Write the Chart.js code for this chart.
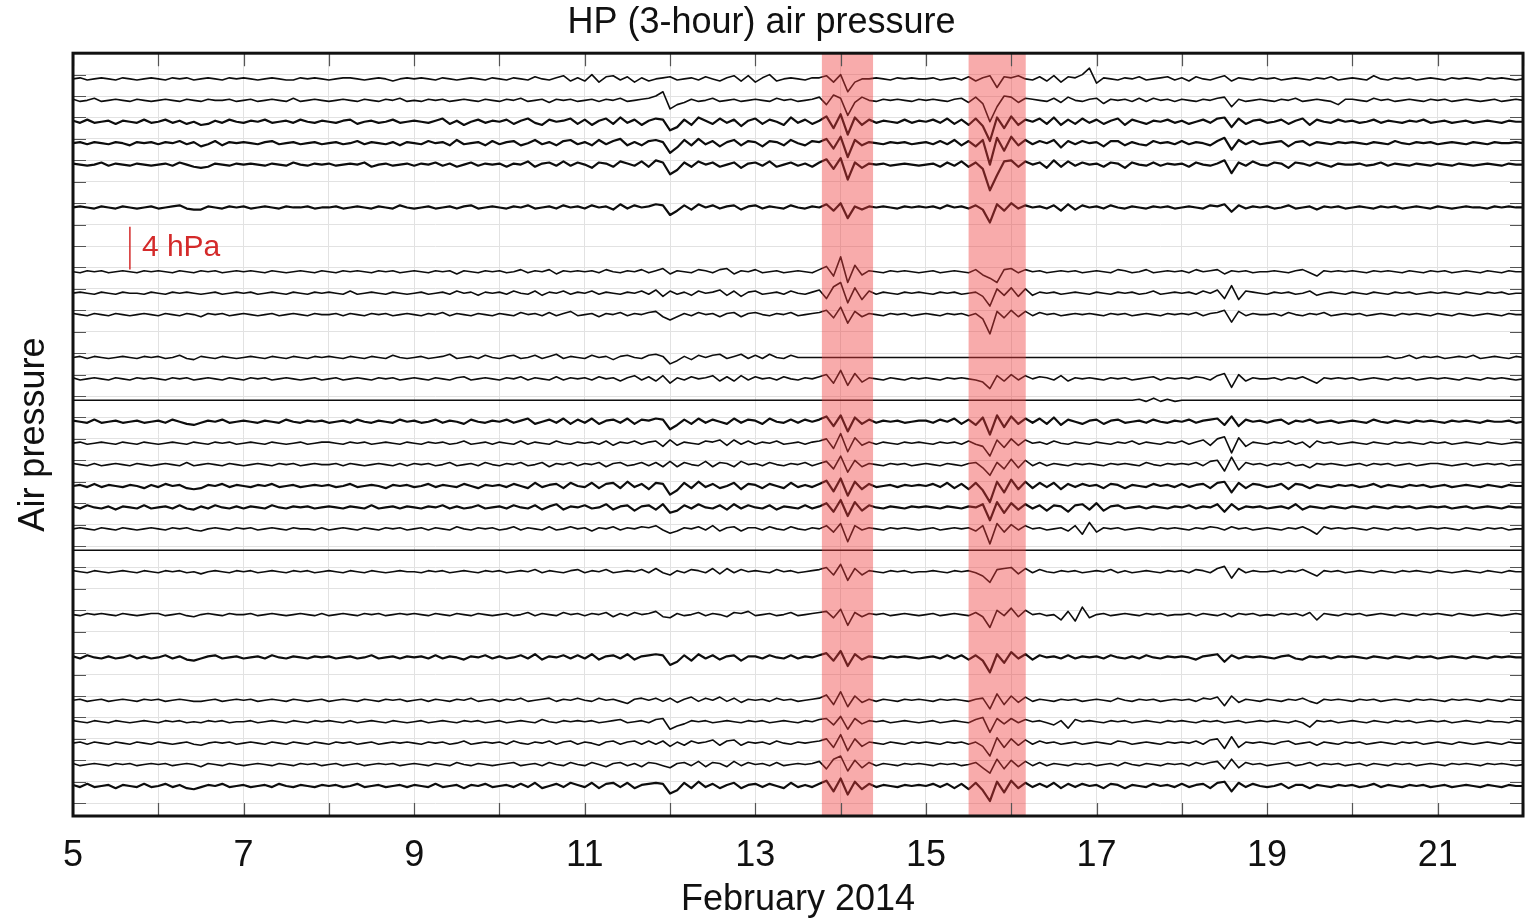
<!DOCTYPE html>
<html>
<head>
<meta charset="utf-8">
<title>HP (3-hour) air pressure</title>
<script src="https://cdn.jsdelivr.net/npm/chart.js@4.4.1/dist/chart.umd.min.js"></script>
<style>
  html, body { margin: 0; padding: 0; background: #fff; }
</style>
</head>
<body>
<canvas id="chart" width="1530" height="922"></canvas>
<script>
// time axis: samples every 2 hours starting Feb 5, 00:00
const startDay = 5;
const stepDays = 2 / 24;
const dayTicks = [5, 6, 7, 8, 9, 10, 11, 12, 13, 14, 15, 16, 17, 18, 19, 20, 21, 22];
const dayLabels = [5, 7, 9, 11, 13, 15, 17, 19, 21];

// shaded event windows (day of February)
const bands = [[13.78, 14.38], [15.5, 16.17]];
const scaleBarHPa = 4;

// slot of each trace (one slot = 2 hPa down the stack)
const traceSlots = [0, 1, 2, 3, 4, 6, 9, 10, 11, 13, 14, 15, 16, 17, 18, 19, 20, 21, 22, 23, 25, 27, 29, 30, 31, 32, 33];

// high-passed pressure per station, in units of 0.1 hPa
const p0 = [0,1,-1,0,1,0,-1,1,0,-1,0,1, 0,-1,1,0,1,-1,0,1,0,-1,1,0,
  1,0,-1,0,1,0,-1,-1,1,0,1,0, -1,0,1,1,0,-1,0,1,0,-2,0,1,
  0,1,0,-1,1,0,-1,0,1,0,-1,1, 0,-1,1,0,-1,2,0,-1,1,3,-2,1,
  -2,4,-3,2,3,-1,2,-3,1,-2,0,1, 2,-1,0,1,-1,2,0,-2,1,3,-2,3,
  -3,1,4,-2,0,1,0,-1,1,1,3,-3, 4,-12,-3,0,0,1,0,-1,1,0,1,0,
  0,1,-1,0,1,-1,2,-2,1,3,-8,2, 1,3,0,-1,2,-2,3,-3,2,1,4,10,
  -4,1,0,-1,1,0,2,-1,0,1,2,-1, 1,-2,2,0,-1,1,3,-2,1,0,-1,1,
  0,1,-1,0,1,0,-1,1,0,2,-1,0, 1,0,-1,3,0,-1,1,0,1,-1,0,1,
  0,-1,1,0,1,0,-1,1,0,1,0,-1, 0];
const p1 = [1,-1,0,2,-1,0,1,0,-1,1,0,-1, 0,1,0,-1,1,0,-1,1,0,0,1,-1,
  0,1,-1,0,1,0,-1,2,-1,0,1,0, -1,0,1,0,-1,1,0,-1,1,0,2,-1,
  0,-1,1,0,1,-1,0,1,0,-1,1,0, -1,1,0,2,-1,0,1,-2,1,0,1,-1,
  0,1,-1,1,0,2,-1,0,1,2,4,8, -8,-4,-2,1,-1,0,2,-1,0,1,-1,0,
  1,0,-1,2,0,1,-1,0,1,3,-4,5, 2,-14,-2,3,0,-1,1,0,1,0,-1,1,
  0,1,0,-1,1,2,-2,3,-3,-20,-6,4, 3,-2,2,1,0,-1,2,-2,3,0,-1,1,
  2,-3,1,0,1,-1,2,-1,2,0,1,-1, 1,0,-1,1,0,2,3,-6,1,-1,0,1,
  0,-1,1,0,2,-1,0,1,0,-1,-4,1, 1,0,-1,2,0,1,-1,0,1,0,-1,1,
  0,1,-1,0,1,0,-1,0,1,-1,0,1, 0];
const p2 = [1,-1,2,-1,0,1,-2,1,0,-1,2,-1, 0,2,-1,1,-2,0,-3,-2,1,-1,2,0,
  -1,1,0,2,-1,0,1,-1,2,0,-1,1, 0,-1,1,2,-2,0,1,-1,0,2,-1,0,
  1,0,-1,1,3,-2,1,-3,0,2,-1,1, 0,2,-2,1,3,-1,-3,2,0,1,3,-2,
  2,-3,1,3,-2,4,-1,2,-3,1,3,2, -8,-5,2,-3,4,1,-2,3,-1,2,-4,1,
  3,-2,2,0,-3,4,-1,2,-2,1,5,-6, 7,-12,4,-3,2,-1,1,0,-1,2,-1,1,
  0,2,-1,3,-2,2,-3,3,-4,-18,4,-6, 5,-3,2,0,3,-2,4,-3,2,-2,3,-1,
  2,-2,1,3,-3,2,0,-2,1,0,2,-1, 1,-2,0,2,-1,3,4,-5,3,-2,1,2,
  -1,0,2,-2,1,3,-3,2,0,-1,2,0, 1,-1,0,2,-1,1,0,-1,1,0,2,-1,
  0,1,-1,0,1,-1,0,1,0,-1,1,0, 0];
const p3 = [0,1,-1,1,0,-1,1,0,-2,1,0,1, -1,1,0,2,-1,1,-3,-1,2,-2,1,0,
  1,0,-1,1,2,-1,0,1,-1,0,1,-1, 0,1,-1,0,2,-1,1,0,-1,1,-2,1,
  0,-1,2,0,1,-2,3,-1,0,1,-2,2, -1,1,2,-2,0,3,-1,1,-2,2,3,-1,
  1,-2,3,-1,2,4,-2,1,-2,2,3,1, -9,-4,3,-2,4,-1,2,-3,1,3,-2,2,
  1,-3,2,1,-2,3,0,-2,2,1,4,-5, 6,-13,3,-2,1,0,-1,1,0,1,-1,0,
  1,-1,2,-1,3,-2,2,-3,3,-20,5,-7, 6,-2,3,-1,2,0,3,-4,2,-1,2,0,
  1,-3,2,2,-2,1,-1,-2,2,0,1,-1, 2,-1,1,0,-2,2,5,-6,3,-1,2,-1,
  0,1,2,-3,1,2,-2,1,0,-1,1,0, 1,0,-1,1,0,-1,2,0,-1,1,0,1,
  -1,0,1,0,-1,1,0,-1,1,0,0,1, 0];
const p4 = [1,0,-1,0,2,-1,1,0,-1,1,0,-1, 0,1,-1,2,0,-2,-3,-2,1,0,-1,1,
  0,1,0,-1,1,0,-1,2,0,-1,1,0, 1,-1,0,1,0,2,-2,0,1,-1,0,1,
  -1,1,0,2,-1,1,-2,0,2,-1,1,0, 1,-2,1,0,3,-2,1,2,-1,3,-1,2,
  0,-3,2,1,-2,3,1,-1,3,-2,4,2, -9,-5,2,-2,3,0,2,-2,0,2,-3,1,
  2,-1,3,-2,0,2,-1,1,-2,2,5,-4, 6,-14,2,-3,1,0,1,-1,0,1,0,-1,
  0,1,-2,2,-1,3,-2,2,-4,-24,-10,3, 4,-2,3,0,2,-3,4,-2,3,-1,2,0,
  1,-2,2,1,-3,2,0,-1,2,-1,1,0, 1,-2,2,0,-1,1,4,-8,2,-1,3,0,
  -1,2,1,-3,2,1,-1,2,0,-2,1,0, 0,1,-1,0,2,-1,1,0,-1,1,0,-1,
  1,0,-1,1,0,-1,0,1,0,-1,1,0, 0];
const p6 = [0,1,0,-1,1,0,-1,1,0,-1,0,1, -1,0,1,2,-1,-2,-2,1,0,-1,1,0,
  1,-1,0,1,0,-1,1,0,0,1,-1,0, 0,1,-1,0,1,0,-1,1,0,-1,2,0,
  -1,0,1,-1,0,1,-1,1,2,-1,0,1, 0,-1,1,0,2,-1,0,1,-1,2,0,1,
  -1,2,0,1,-2,3,-1,2,0,1,3,2, -7,-3,2,-2,3,0,2,-1,1,2,-2,1,
  2,-1,1,0,-1,2,0,-1,1,0,3,-3, 4,-10,1,-2,1,0,1,0,-1,1,0,1,
  0,1,-1,2,0,1,-1,2,-2,-14,3,-3, 4,-1,2,0,1,-1,2,-3,3,-2,2,0,
  1,-1,2,0,-1,1,0,-1,1,0,1,-1, 0,1,0,-1,2,1,3,-4,2,-1,1,0,
  1,-1,0,2,-1,0,1,-2,1,0,1,-1, 0,1,0,-1,1,0,1,-1,0,1,0,-1,
  1,0,-1,0,1,0,0,-1,1,0,1,0, 0];
const p9 = [0,-1,1,0,1,-1,0,1,0,-1,1,0, 1,0,-1,1,0,-1,1,0,1,-1,0,1,
  0,1,0,-1,1,0,-1,0,1,0,-1,1, 0,-1,1,0,1,0,-1,1,0,1,-1,0,
  1,0,-1,1,0,1,-2,1,0,-1,1,0, 1,-1,0,2,-1,1,0,2,-2,1,0,1,
  0,1,-1,2,0,-1,1,0,2,-1,1,3, -2,1,0,-1,2,1,-1,2,3,-2,1,0,
  2,-1,0,1,-1,0,1,0,-1,2,5,-4, 14,-10,6,-3,1,0,-1,1,0,1,0,-1,
  0,1,-1,0,1,0,-1,2,-3,-6,-10,2, 3,-1,2,0,1,-1,0,1,0,1,-1,0,
  1,0,-1,2,1,-1,0,2,-1,0,1,0, 1,-1,2,0,1,2,-2,1,0,1,-1,0,
  0,1,0,-1,1,2,-1,-4,1,0,1,0, 1,0,-1,1,0,1,0,-1,1,0,-1,1,
  0,1,-1,0,1,0,-1,1,0,-1,1,0, 0];
const p10 = [0,1,0,-1,1,0,-1,1,0,0,-1,1, 0,-1,1,0,1,0,-1,0,1,-1,0,1,
  0,1,-1,0,1,0,-1,1,0,-1,1,0, 1,0,-1,2,-1,0,1,0,-1,1,0,-1,
  0,1,-1,0,1,-1,2,0,1,-2,1,0, 1,-1,2,0,-1,2,-2,1,0,2,-1,1,
  0,2,-1,1,0,-1,1,0,2,-1,3,-3, 2,-1,1,-2,2,0,1,3,-2,2,-3,1,
  2,-1,0,1,-1,2,0,-1,1,3,-5,6, 10,-9,5,-6,2,-1,1,0,-1,1,0,1,
  0,-1,1,0,1,-1,0,1,-3,-12,4,-2, 5,-3,4,-2,1,0,1,-1,0,1,0,-1,
  1,0,-1,1,0,1,-1,0,2,-1,0,1, 0,1,-1,2,0,3,-5,7,-6,2,1,0,
  -1,1,0,1,-1,0,2,-2,0,1,0,-1, 1,0,-1,1,0,-1,1,0,1,-1,0,1,
  0,1,0,-1,1,0,-1,1,0,1,-1,0, 0];
const p11 = [1,0,-1,1,0,-1,1,0,-1,0,1,0, -1,1,0,-1,1,0,-2,1,0,1,-1,0,
  1,0,-1,0,1,-1,0,1,0,-1,1,0, 0,1,-1,1,0,-1,1,0,1,-1,0,1,
  0,-1,1,0,2,-1,1,0,-1,1,0,-1, 1,0,-1,2,0,1,-1,2,-1,1,3,-1,
  0,1,-2,1,0,2,-1,1,0,2,3,-2, -5,-2,1,-1,2,0,1,-2,1,2,-2,1,
  2,0,-1,1,0,2,-1,0,1,2,4,-3, 7,-8,3,-2,1,0,-1,1,0,1,-1,0,
  1,0,-1,1,0,1,-1,1,-4,-18,3,-3, 4,-2,3,-1,2,0,1,-1,0,1,0,1,
  0,-1,1,0,1,-1,0,1,0,-1,1,0, 1,0,2,-1,1,2,4,-7,3,-1,1,0,
  0,1,-1,2,0,-1,1,0,2,-1,0,1, 0,1,-1,0,1,0,-1,1,0,1,0,-1,
  1,0,-1,1,0,-1,0,1,0,-1,1,0, 0];
const p13 = [0,1,-1,1,0,-1,0,1,0,-1,1,0, 1,-1,0,2,-1,-2,1,0,-1,1,0,-1,
  0,1,0,-1,1,0,-1,1,0,-1,1,0, 1,0,-1,1,0,-1,1,0,-1,2,0,-1,
  0,1,-1,0,1,3,-1,0,1,-1,2,0, -1,1,2,-1,0,2,-1,1,3,-1,1,0,
  -1,2,0,1,-2,1,2,0,-1,2,3,1, -6,-3,1,-2,2,0,2,3,-1,1,3,-1,
  2,-1,3,0,-1,2,0,0,0,0,0,0, 0,0,0,0,0,0,0,0,0,0,0,0,
  0,0,0,0,0,0,0,0,0,0,0,0, 0,0,0,0,0,0,0,0,0,0,0,0,
  0,0,0,0,0,0,0,0,0,0,0,0, 0,0,0,0,0,0,0,0,0,0,0,0,
  0,0,0,0,0,0,0,0,0,0,0,0, 0,0,0,0,0,1,-1,0,2,-1,1,0,
  1,-1,0,1,0,2,-1,0,1,0,-1,1, 0];
// mostly dead channel: [day, value] pairs
const p15 = [[5, 0], [17.42, 0], [17.5, 1], [17.58, -1], [17.67, 2], [17.75, -1], [17.83, 1], [17.92, -1], [18, 0], [22, 0]];
const p14 = [1,-1,0,1,0,-1,1,0,-1,1,0,1, 0,-1,1,0,1,-1,0,1,0,-1,1,0,
  -1,1,0,1,-1,0,1,0,-1,0,1,-1, 0,1,-1,0,1,0,-1,1,0,1,-1,0,
  1,0,-1,1,0,-1,1,2,-1,0,1,0, -1,1,0,2,-1,1,0,-1,2,-1,1,0,
  1,-1,2,0,1,-2,1,3,-1,2,-2,3, -4,1,-1,2,0,1,3,-2,2,-2,3,-1,
  2,0,1,-1,2,0,-1,1,0,2,4,-4, 8,-6,5,-3,1,0,-1,1,0,-1,1,0,
  1,0,-1,1,0,1,0,-1,-3,-9,3,-2, 4,-1,3,0,2,1,-1,3,-2,1,0,1,
  0,-1,1,0,1,-1,0,1,2,-1,1,0, 1,0,2,1,-1,3,5,-8,4,-2,1,0,
  0,1,-1,1,0,2,-1,-4,1,0,1,0, 1,-1,0,1,0,-1,1,0,1,-1,0,1,
  0,1,0,-1,1,0,-1,1,0,1,0,-1, 0];
const p16 = [1,0,-1,2,-1,0,1,-1,0,1,-1,0, 1,-1,2,0,-2,-3,-1,1,0,2,-1,0,
  1,0,-1,1,0,-1,2,0,-1,1,0,1, -1,0,1,-1,2,0,-1,1,0,-1,2,0,
  1,-1,0,2,-1,1,0,-2,2,0,-1,1, 0,2,-1,1,3,-2,0,2,-1,3,-2,2,
  -1,3,-2,1,2,-1,3,-2,2,1,3,2, -7,-3,2,-2,3,-1,2,0,-2,3,-1,2,
  1,-2,3,0,-1,2,-1,2,0,2,5,-4, 6,-9,4,-2,2,-1,1,0,1,-1,0,1,
  1,-1,2,0,3,-2,2,-3,4,-12,6,-5, 5,-2,3,-1,3,-2,4,-3,2,0,-2,1,
  2,-2,1,2,-1,0,1,-1,2,0,-1,1, 0,2,-1,1,2,3,-3,5,-4,2,0,1,
  -1,1,2,-2,1,0,2,-1,0,1,-1,0, 1,0,-1,2,0,-1,1,0,-1,1,0,1,
  0,-1,1,0,1,0,-1,1,0,0,1,-1, 0];
const p17 = [0,1,-1,0,1,0,-1,1,0,-1,1,0, -1,0,1,0,-1,1,0,-1,1,0,1,-1,
  0,1,0,-1,1,0,-1,0,1,-1,0,1, 1,0,-1,1,0,1,-1,0,1,0,-1,1,
  0,-1,1,0,1,-1,0,2,-1,0,1,-1, 1,0,-1,2,-1,1,0,-1,2,0,-1,1,
  0,1,-1,2,-2,1,0,2,-1,1,2,-3, 3,-2,1,0,-1,2,1,3,-2,3,-1,2,
  -1,1,0,2,-1,0,1,-1,1,2,4,-5, 9,-8,5,-2,1,-1,1,0,-1,1,0,1,
  0,-1,1,0,1,-1,2,-1,-3,-12,3,-4, 4,-2,3,0,1,-1,2,0,-1,1,0,-1,
  1,0,-1,1,0,2,-1,1,0,-1,1,0, 2,-1,1,3,-2,4,6,-9,5,-3,1,0,
  -1,1,0,2,-1,1,-4,2,0,1,-1,0, 1,0,-1,1,0,-1,1,0,1,0,-1,1,
  0,1,-1,0,1,0,-1,1,0,-1,0,1, 0];
const p18 = [1,0,-1,1,-1,0,1,0,-1,1,0,-1, 0,1,0,-1,2,-1,0,1,0,-1,1,0,
  -1,0,1,0,-1,1,0,1,-1,0,1,0, 0,1,-1,1,0,-1,0,1,0,-1,1,-1,
  1,0,1,-1,0,2,-1,0,1,-1,2,0, -1,1,0,2,-1,0,2,-2,1,0,2,-1,
  1,0,2,-2,1,2,-1,0,2,-1,2,-2, 3,-2,2,0,-1,3,-2,2,1,-2,3,0,
  1,-1,2,0,-1,1,0,2,-1,1,3,-4, 8,-7,4,-2,1,0,-1,1,0,1,-1,0,
  1,0,-1,1,0,-1,1,2,-3,-10,2,-4, 5,-3,4,-1,2,-1,1,0,-1,1,0,1,
  0,-1,1,0,1,0,-1,2,0,-1,1,0, 1,0,2,-1,3,4,-6,7,-5,2,0,1,
  -1,1,0,2,-1,0,-3,1,0,1,0,-1, 0,1,-1,1,0,1,-1,0,1,-1,0,1,
  1,0,-1,0,1,-1,0,1,0,1,-1,0, 0];
const p19 = [0,1,-1,2,-1,1,0,-1,1,0,-2,1, -1,2,0,1,-2,-3,-2,1,0,2,-1,1,
  0,-1,1,0,2,-1,0,1,-1,0,1,0, 1,-1,0,2,-1,0,1,0,-2,1,0,1,
  -1,0,2,-1,1,0,-1,2,0,-2,1,0, 1,-1,2,0,-2,3,-1,1,2,-2,3,0,
  -1,3,-2,2,3,-2,4,-1,2,-3,3,2, -8,-4,3,-2,4,-1,2,-2,0,3,-3,2,
  1,-2,2,0,-2,3,-1,1,-1,2,5,-5, 7,-9,4,-3,2,-1,0,1,-1,1,0,1,
  0,2,-1,3,-2,2,-3,3,-4,-15,4,-6, 6,-3,4,-2,3,-1,3,-3,2,-1,2,0,
  1,-2,2,1,-2,1,0,-1,2,0,1,-1, 2,-1,1,2,-2,3,4,-6,3,-2,2,1,
  -1,0,2,-3,2,1,-2,1,0,-1,1,0, 1,-1,0,2,-1,1,0,-1,1,0,1,-1,
  0,1,-1,0,1,0,-1,1,0,-1,1,0, 0];
const p20 = [1,-1,2,0,-1,1,-2,1,0,-1,2,-1, 0,1,-1,2,-1,-2,1,-1,2,0,-1,1,
  -1,1,0,-1,2,0,-1,1,0,1,-1,0, 1,0,-1,1,0,-1,2,-1,0,1,-1,1,
  0,-1,1,0,2,-1,1,-1,0,2,-1,0, 1,-1,2,0,-1,2,-2,1,3,-2,1,0,
  2,-1,0,3,-2,1,2,-3,1,2,-2,3, -5,-3,2,-1,3,0,-1,2,-2,3,-1,2,
  0,-1,2,-2,1,0,-1,2,-1,1,4,-4, 7,-8,5,-3,2,0,-1,1,0,-1,1,0,
  1,0,-1,1,0,-1,1,0,3,-12,5,-5, 4,-2,3,-1,2,-3,2,1,-4,2,3,-2,
  4,-3,1,2,-1,0,1,-1,1,0,-1,1, 0,2,-1,1,0,3,-4,3,-2,1,0,1,
  -1,0,1,-1,3,-2,1,0,-1,1,0,-1, 1,0,-1,1,0,-1,1,0,1,-1,0,1,
  0,1,-1,0,1,-1,0,1,0,-1,1,0, 0];
const p21 = [0,1,0,-1,1,0,-1,1,0,-1,0,1, 0,-1,1,0,1,-1,-2,0,1,0,-1,1,
  0,1,-1,0,1,0,-1,1,0,0,-1,1, -1,0,1,0,-1,1,0,-1,1,0,1,-1,
  0,1,-1,1,0,-1,2,0,-1,1,0,1, -1,0,2,-1,1,0,-1,2,-1,0,2,0,
  1,-2,1,0,2,-1,1,0,2,1,3,-1, -4,-2,1,0,2,-1,3,-2,1,2,-2,1,
  1,-1,2,0,-1,2,0,-1,1,0,3,-3, 5,-12,3,-1,1,0,-1,1,0,1,0,-1,
  0,1,-1,0,1,0,1,-2,3,-14,5,-3, 4,-1,3,0,1,-1,0,1,-2,3,-5,6,
  -3,1,0,1,-1,0,1,0,-1,1,0,1, 0,-1,1,0,2,1,-1,2,0,1,-1,0,
  1,0,-1,1,0,2,-1,-5,2,0,1,0, 1,0,-1,1,0,-1,1,0,1,-1,0,1,
  0,1,0,-1,1,0,-1,1,0,1,-1,0, 0];
// dead channel, flat for the whole period
const p22 = [[5, 0], [22, 0]];
const p23 = [1,0,-1,1,0,-1,0,1,0,-1,1,0, -1,1,0,1,-1,0,-2,0,1,0,-1,1,
  0,1,-1,0,1,0,-1,1,0,1,-1,0, 1,0,-1,1,0,-1,1,0,-1,0,1,0,
  0,-1,1,0,1,-1,0,1,0,-1,1,0, 1,-1,0,1,0,2,-1,1,0,-1,1,2,
  -1,1,0,2,-1,0,1,0,2,-1,3,-1, -3,1,-1,2,1,-1,3,-2,3,-1,2,0,
  1,0,-1,2,0,1,-1,0,1,2,4,-3, 7,-8,3,-3,1,0,-1,1,0,1,-1,0,
  0,1,0,-1,1,0,1,-1,-4,-10,2,3, 4,-2,3,-1,2,0,-1,1,0,1,-1,0,
  1,0,2,-1,1,-1,0,1,0,-1,1,0, 1,-1,2,1,-1,3,5,-6,3,-1,1,0,
  0,1,-1,1,0,2,-1,-4,1,0,1,-1, 0,1,0,-1,1,0,-1,1,0,1,0,-1,
  1,0,-1,0,1,0,-1,1,0,-1,1,0, 0];
const p25 = [0,-1,1,0,1,0,-1,1,0,-1,0,1, 1,-1,0,1,-1,-2,0,1,0,-1,1,0,
  0,1,-1,0,1,0,-1,0,1,0,-1,1, -1,0,1,0,-1,1,0,1,-1,0,1,0,
  1,0,-1,1,0,-1,1,0,-1,1,0,-1, 0,1,-1,0,2,-1,1,0,-1,2,0,1,
  -1,1,0,2,-2,1,-1,2,0,1,3,-2, -3,1,-1,0,2,-1,1,0,-2,2,1,3,
  -1,0,1,-1,0,2,-1,0,1,2,3,-3, 5,-10,2,-2,1,0,1,-1,0,1,0,-1,
  0,1,-1,0,1,0,-1,2,-2,-12,4,-1, 6,-2,4,0,1,-1,0,-5,3,-6,7,-3,
  0,1,-1,0,1,0,-1,1,0,1,-1,0, 0,1,-1,1,0,-1,1,-2,1,0,1,-1,
  0,-1,1,0,1,-1,2,-5,1,0,-1,1, 0,1,-1,0,1,0,-1,1,0,-1,1,0,
  1,0,-1,1,0,-1,0,1,0,-1,0,1, 0];
const p27 = [1,-1,2,0,-1,1,-1,0,2,-1,1,-1, 0,2,-1,1,-2,-3,-1,1,2,-1,0,1,
  -1,0,1,-1,2,0,-1,1,0,-1,1,0, 1,-1,0,1,-1,0,2,-1,0,1,-1,1,
  0,1,-1,2,-1,1,0,-2,1,0,2,-1, 1,-1,0,2,-1,3,-2,1,0,2,-1,2,
  -1,3,-2,1,2,-1,3,-2,1,2,3,2, -7,-4,2,-3,3,-1,2,-2,1,2,-3,1,
  1,-1,2,0,-1,2,-1,1,0,2,4,-3, 6,-8,3,-2,1,0,-1,1,0,1,0,-1,
  0,1,-1,2,-1,2,-2,2,-3,-14,3,-5, 5,-1,3,-2,2,0,1,-1,2,-1,1,0,
  1,-1,2,0,-1,1,-1,2,0,-1,1,0, 1,0,-2,1,2,3,-4,2,-1,1,0,1,
  0,-1,1,2,-1,-2,1,0,1,-1,1,0, 1,0,-1,1,0,-1,1,0,-1,1,0,1,
  -1,0,1,0,-1,1,0,-1,1,0,1,0, 0];
const p29 = [0,1,-1,0,1,-1,0,1,0,-1,1,0, 1,-1,0,1,0,-1,-1,0,1,-1,0,1,
  0,1,-1,0,1,0,-1,1,0,-1,0,1, -1,0,1,0,-1,1,0,-1,1,0,1,-1,
  0,1,-1,1,0,-1,1,0,2,-1,0,1, -1,1,0,2,-1,0,1,2,-1,1,0,2,
  0,-1,2,0,1,-1,-3,1,2,0,2,-1, 2,-2,1,3,-1,2,0,3,-1,2,-2,1,
  0,1,-1,2,0,1,-1,0,1,2,5,-4, 8,-6,4,-2,1,-1,1,0,-1,1,0,1,
  0,-1,1,0,1,0,-1,1,2,-8,6,-4, 4,-2,3,-1,1,0,-1,1,0,1,-1,0,
  1,0,-1,2,0,-1,1,0,1,-1,0,1, 0,1,-1,2,1,3,-5,4,-2,1,0,-1,
  1,0,-1,1,0,2,-1,-3,1,0,1,0, -1,1,0,1,-1,0,1,0,-1,1,0,1,
  0,-1,1,0,1,0,-1,1,0,-1,1,0, 0];
const p30 = [1,0,-1,1,0,-1,1,0,-1,0,1,0, -1,1,0,1,-1,0,-1,1,0,1,-1,0,
  0,1,-1,0,1,0,-1,1,0,-1,1,0, 1,0,-1,1,-1,0,1,0,-1,1,0,-1,
  0,1,-1,0,1,0,-1,1,0,1,-1,0, 1,-1,0,1,0,-1,2,0,-1,1,0,1,
  0,1,-1,0,1,2,-1,0,1,-1,2,3, -7,-4,-2,1,0,1,-1,0,1,0,-1,1,
  0,1,-1,0,1,0,-1,1,0,2,3,-3, 5,-7,3,-2,1,0,1,-1,0,1,0,-1,
  0,1,-1,0,1,0,-1,2,4,-10,3,-2, 3,-1,2,0,1,-1,-3,1,-6,2,0,1,
  0,-1,1,0,1,-1,0,1,0,-1,1,0, 1,0,-1,1,0,1,-1,0,1,-1,0,1,
  0,1,0,-1,1,-1,-5,1,0,1,-1,0, 1,0,-1,1,0,-1,1,0,1,-1,0,1,
  0,1,-1,0,1,0,-1,1,0,0,-1,1, 0];
const p31 = [0,1,-1,1,0,-1,1,0,-1,1,0,-1, 1,0,-1,0,1,-1,-2,0,1,0,1,-1,
  0,1,0,-1,1,0,-1,1,0,-1,1,0, -1,1,0,1,-1,0,1,-1,0,1,0,1,
  0,-1,1,0,1,-1,0,2,-1,0,1,0, 1,-1,2,0,-1,1,0,2,-1,1,2,-1,
  1,0,-2,1,2,-1,1,2,-1,2,-1,2, -3,1,-2,2,0,1,3,-2,2,3,-2,1,
  0,1,-1,2,0,-1,1,0,1,2,4,-4, 8,-7,4,-3,1,0,-1,1,0,-1,1,0,
  1,0,-1,1,0,1,-1,1,-3,-12,5,-4, 4,-2,3,-1,2,0,1,-1,0,1,-1,0,
  1,0,-1,2,1,-1,0,1,0,-1,1,0, 1,0,2,-1,3,4,-5,6,-4,1,0,1,
  0,-1,1,2,-1,0,1,-2,1,0,-1,1, 0,1,-1,0,1,0,-1,1,0,1,-1,0,
  1,0,-1,1,0,-1,0,1,0,-1,1,0, 0];
const p32 = [1,-1,0,1,0,-1,1,0,1,-1,0,1, 0,1,-1,0,1,0,-2,1,0,-1,1,0,
  -1,0,1,0,-1,1,0,-1,1,0,1,-1, 0,1,-1,0,1,-1,0,1,0,1,-1,0,
  1,0,-1,1,0,-1,2,0,-1,1,0,-1, 0,1,2,-1,0,1,-1,2,0,-1,2,0,
  -1,2,0,-2,1,2,-1,1,-2,2,1,-1, -3,1,2,-1,3,-2,2,1,-2,3,-1,2,
  0,1,-1,2,-1,0,1,0,1,3,-4,5, 8,-6,4,-3,2,-1,1,0,-1,1,0,1,
  0,-1,1,0,1,-1,0,2,-3,-8,5,-4, 4,-2,3,-1,2,-1,1,0,-1,1,0,1,
  -1,0,1,-1,2,0,-1,1,0,-1,1,0, 1,-1,2,0,2,3,-4,5,-3,2,0,1,
  -1,0,1,2,-1,0,2,-1,1,0,1,-1, 0,1,-1,1,0,-1,1,0,1,-1,0,1,
  0,-1,1,0,1,0,-1,1,0,1,0,-1, 0];
const p33 = [1,-1,2,-1,0,1,-2,1,0,-1,2,-1, 0,2,-1,1,-2,-3,-1,1,0,2,-1,0,
  1,-1,0,1,-1,2,0,-1,1,0,-1,1, 0,1,-1,0,2,-1,0,1,-1,0,1,-1,
  1,0,-1,2,-1,0,1,-2,1,0,2,-1, 0,1,-1,2,-1,3,-2,0,2,-1,3,1,
  -1,3,-2,2,3,-1,3,-2,1,2,3,2, -7,-4,3,-2,4,-1,2,-2,1,3,-2,1,
  2,-1,2,0,-2,3,-1,1,-1,2,5,-5, 7,-8,4,-3,2,-1,1,0,-1,1,0,1,
  0,2,-1,2,-2,2,-3,3,-4,-14,4,-6, 5,-2,3,-1,2,-1,3,-2,2,-1,2,0,
  1,-2,2,1,-2,1,0,-1,2,0,1,-1, 2,-1,1,2,-2,3,4,-5,3,-1,2,0,
  -1,0,2,-2,1,1,-2,1,0,-1,1,0, 1,-1,0,2,-1,1,0,-1,1,0,1,-1,
  0,1,-1,0,1,0,-1,1,0,-1,1,0, 0];

const traces = [p0, p1, p2, p3, p4, p6, p9, p10, p11, p13, p14, p15, p16, p17,
  p18, p19, p20, p21, p22, p23, p25, p27, p29, p30, p31, p32, p33];

// traces that print heavier in the figure
const heavySlots = [2, 3, 4, 6, 16, 19, 20, 27, 33];

const FONT = "'Liberation Sans', Arial, Helvetica, sans-serif";
const unit = 0.1;          // data unit in hPa
const baseShift = 0.4;     // traces sit slightly below their tick

const datasets = traces.map((vals, n) => {
  const slot = traceSlots[n];
  const base = -2 * slot - baseShift;
  const pts = Array.isArray(vals[0])
    ? vals.map(([d, v]) => ({ x: d, y: base + v * unit }))
    : vals.map((v, i) => ({ x: startDay + i * stepDays, y: base + v * unit }));
  return {
    data: pts,
    borderColor: '#0d0d0d',
    borderWidth: heavySlots.includes(slot) ? 2.2 : 1.6,
    pointRadius: 0,
    tension: 0,
    fill: false,
    borderJoinStyle: 'round'
  };
});

const overlay = {
  id: 'overlay',
  afterDatasetsDraw(chart) {
    const { ctx, chartArea: a, scales: { x } } = chart;
    ctx.save();
    ctx.fillStyle = 'rgba(238, 60, 60, 0.43)';
    bands.forEach(([b0, b1]) => {
      const x0 = x.getPixelForValue(b0);
      const x1 = x.getPixelForValue(b1);
      ctx.fillRect(x0, a.top, x1 - x0, a.bottom - a.top);
    });
    ctx.restore();
  },
  afterDraw(chart) {
    const { ctx, chartArea: a, scales: { x, y } } = chart;
    ctx.save();
    // inward tick marks
    ctx.strokeStyle = '#555';
    ctx.lineWidth = 1.2;
    ctx.beginPath();
    x.ticks.forEach(t => {
      const px = Math.round(x.getPixelForValue(t.value)) + 0.5;
      ctx.moveTo(px, a.top); ctx.lineTo(px, a.top + 13);
      ctx.moveTo(px, a.bottom); ctx.lineTo(px, a.bottom - 13);
    });
    y.ticks.forEach(t => {
      const py = Math.round(y.getPixelForValue(t.value)) + 0.5;
      ctx.moveTo(a.left, py); ctx.lineTo(a.left + 13, py);
      ctx.moveTo(a.right, py); ctx.lineTo(a.right - 13, py);
    });
    ctx.stroke();
    // axes box
    ctx.strokeStyle = '#111';
    ctx.lineWidth = 3;
    ctx.strokeRect(a.left, a.top, a.right - a.left, a.bottom - a.top);
    // 4 hPa scale bar
    const bx = x.getPixelForValue(5.667);
    const yTop = y.getPixelForValue(-14.2);
    const yBot = y.getPixelForValue(-14.2 - scaleBarHPa);
    ctx.strokeStyle = '#d42a2a';
    ctx.lineWidth = 1.5;
    ctx.beginPath();
    ctx.moveTo(bx, yTop); ctx.lineTo(bx, yBot);
    ctx.stroke();
    ctx.fillStyle = '#d42a2a';
    ctx.font = '30px ' + FONT;
    ctx.textBaseline = 'middle';
    ctx.fillText(scaleBarHPa + ' hPa', bx + 12, (yTop + yBot) / 2);
    ctx.restore();
  }
};

new Chart(document.getElementById('chart'), {
  type: 'line',
  data: { datasets },
  plugins: [overlay],
  options: {
    responsive: false,
    animation: false,
    events: [],
    layout: { padding: { top: 0, right: 7, bottom: 0, left: 0 } },
    plugins: {
      legend: { display: false },
      tooltip: { enabled: false },
      title: {
        display: true,
        text: 'HP (3-hour) air pressure',
        color: '#111',
        font: { family: FONT, size: 36, weight: 'normal' },
        padding: { top: 1, bottom: 9 }
      }
    },
    scales: {
      x: {
        type: 'linear',
        min: 5,
        max: 22,
        afterBuildTicks: s => { s.ticks = dayTicks.map(v => ({ value: v })); },
        afterFit: s => { s.height = 106; s.paddingLeft = 0; s.paddingRight = 0; },
        ticks: {
          autoSkip: false,
          maxRotation: 0,
          padding: 18,
          color: '#111',
          font: { family: FONT, size: 36 },
          callback: v => (dayLabels.includes(v) ? String(v) : '')
        },
        grid: { color: '#e2e2e2', drawTicks: false },
        border: { display: false },
        title: {
          display: true,
          text: 'February 2014',
          color: '#111',
          font: { family: FONT, size: 36 },
          padding: { top: 0, bottom: 0 }
        }
      },
      y: {
        type: 'linear',
        min: -69.2,
        max: 2,
        afterBuildTicks: s => {
          const t = [];
          for (let k = 0; k <= 34; k++) t.push({ value: -2 * k });
          s.ticks = t;
        },
        afterFit: s => { s.width = 73; },
        ticks: { display: false },
        grid: { color: '#e2e2e2', drawTicks: false },
        border: { display: false },
        title: {
          display: true,
          text: 'Air pressure',
          color: '#111',
          font: { family: FONT, size: 36 },
          padding: { top: 12, bottom: 0 }
        }
      }
    }
  }
});
</script>
</body>
</html>
